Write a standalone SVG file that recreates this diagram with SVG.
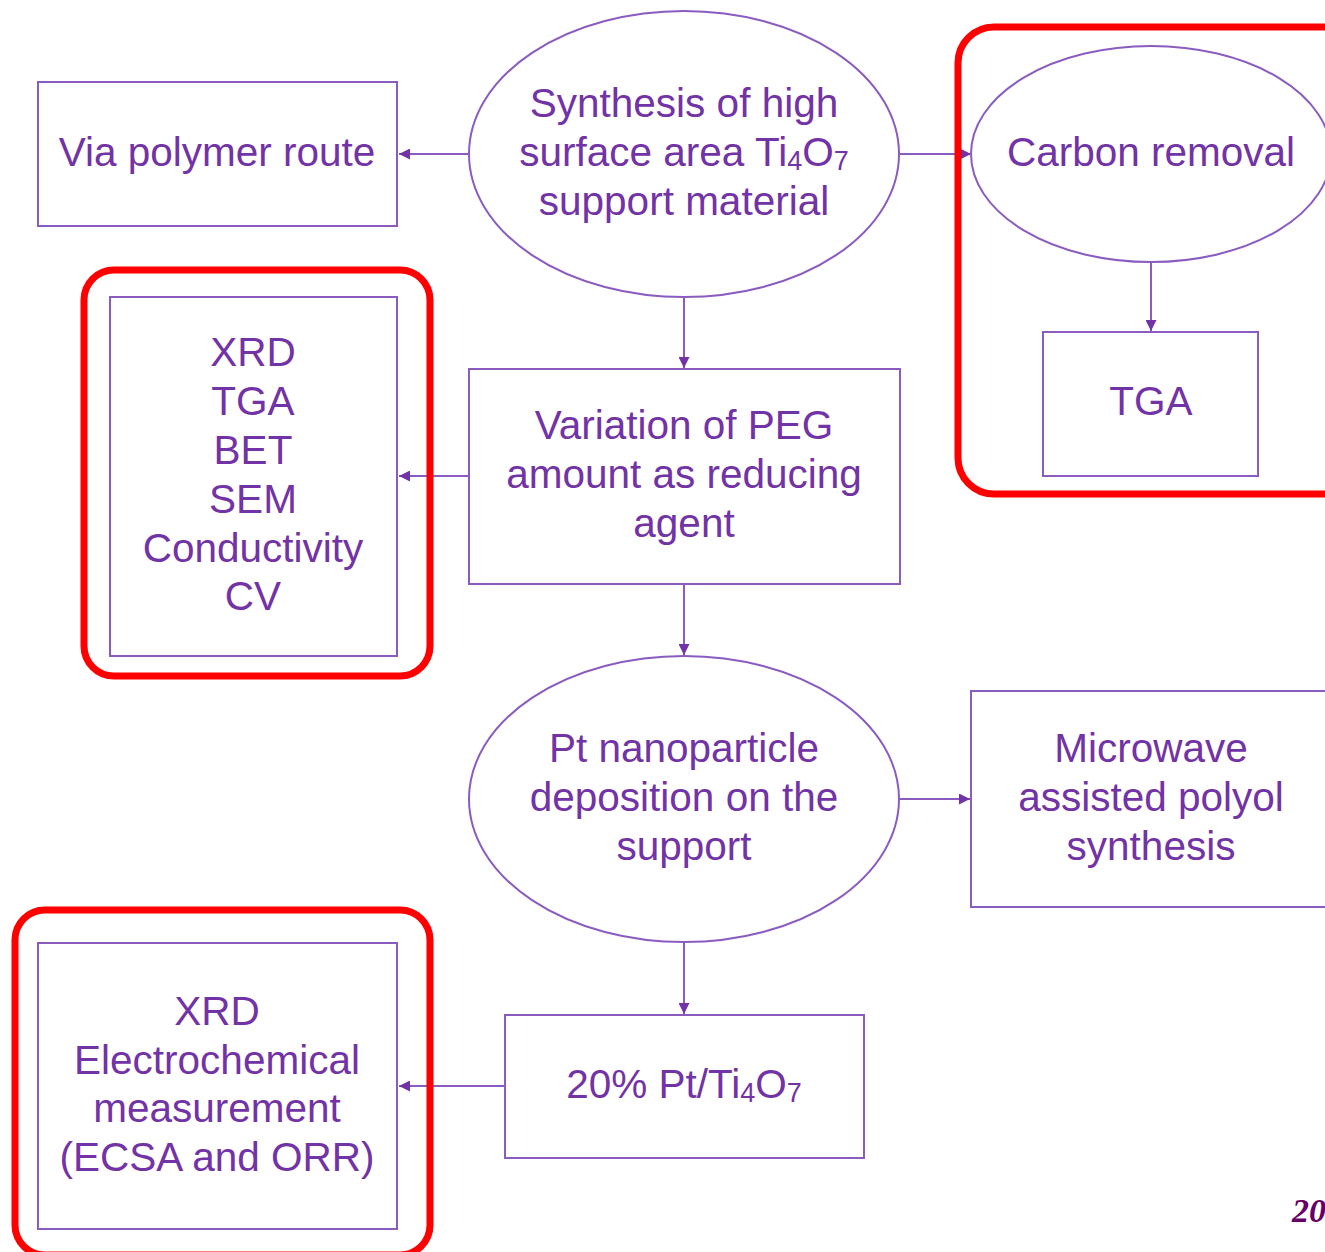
<svg xmlns="http://www.w3.org/2000/svg" width="1325" height="1252" viewBox="0 0 1325 1252">
<defs>
<style>
.n{fill:#fff;stroke:#8a5cc0;stroke-width:2}
.t{font-family:"Liberation Sans",Arial,sans-serif;font-size:40.5px;fill:#7233a6;text-anchor:middle}
.s{font-size:27px}
.c{stroke:#8a5cc0;stroke-width:2;fill:none;marker-end:url(#a)}
.r{fill:none;stroke:#ff0000;stroke-width:7}
</style>
<marker id="a" viewBox="0 0 10 10" refX="10" refY="5" markerWidth="12" markerHeight="11" orient="auto" markerUnits="userSpaceOnUse"><path d="M0,0L10,5L0,10z" fill="#7233a6"/></marker>
</defs>
<rect width="1325" height="1252" fill="#fff"/>
<g id="connectors">
<line class="c" x1="469" y1="154" x2="399" y2="154"/>
<line class="c" x1="899" y1="154" x2="971" y2="154"/>
<line class="c" x1="684" y1="297" x2="684" y2="368"/>
<line class="c" x1="1151" y1="262" x2="1151" y2="331"/>
<line class="c" x1="469" y1="476" x2="399" y2="476"/>
<line class="c" x1="684" y1="584" x2="684" y2="655"/>
<line class="c" x1="899" y1="799" x2="970" y2="799"/>
<line class="c" x1="684" y1="942" x2="684" y2="1014"/>
<line class="c" x1="505" y1="1086" x2="399" y2="1086"/>
</g>
<g id="synthesis">
<ellipse class="n" cx="684" cy="154" rx="215" ry="143"/>
<text class="t" x="684" y="117">Synthesis of high</text>
<text class="t" x="684" y="166">surface area Ti<tspan class="s" dy="4">4</tspan><tspan dy="-4">O</tspan><tspan class="s" dy="4">7</tspan></text>
<text class="t" x="684" y="215">support material</text>
</g>
<g id="polymer">
<rect class="n" x="38" y="82" width="359" height="144"/>
<text class="t" x="217" y="166">Via polymer route</text>
</g>
<g id="carbon">
<ellipse class="n" cx="1151" cy="154" rx="180" ry="108"/>
<text class="t" x="1151" y="166">Carbon removal</text>
</g>
<g id="tga">
<rect class="n" x="1043" y="332" width="215" height="144"/>
<text class="t" x="1151" y="415">TGA</text>
</g>
<g id="peg">
<rect class="n" x="469" y="369" width="431" height="215"/>
<text class="t" x="684" y="439">Variation of PEG</text>
<text class="t" x="684" y="488">amount as reducing</text>
<text class="t" x="684" y="537">agent</text>
</g>
<g id="char1">
<rect class="n" x="110" y="297" width="287" height="359"/>
<text class="t" x="253" y="366">XRD</text>
<text class="t" x="253" y="415">TGA</text>
<text class="t" x="253" y="464">BET</text>
<text class="t" x="253" y="513">SEM</text>
<text class="t" x="253" y="562">Conductivity</text>
<text class="t" x="253" y="610">CV</text>
</g>
<g id="pt">
<ellipse class="n" cx="684" cy="799" rx="215" ry="143"/>
<text class="t" x="684" y="762">Pt nanoparticle</text>
<text class="t" x="684" y="811">deposition on the</text>
<text class="t" x="684" y="860">support</text>
</g>
<g id="microwave">
<rect class="n" x="971" y="691" width="360" height="216"/>
<text class="t" x="1151" y="762">Microwave</text>
<text class="t" x="1151" y="811">assisted polyol</text>
<text class="t" x="1151" y="860">synthesis</text>
</g>
<g id="ptti">
<rect class="n" x="505" y="1015" width="359" height="143"/>
<text class="t" x="684" y="1098">20% Pt/Ti<tspan class="s" dy="4">4</tspan><tspan dy="-4">O</tspan><tspan class="s" dy="4">7</tspan></text>
</g>
<g id="char2">
<rect class="n" x="38" y="943" width="359" height="286"/>
<text class="t" x="217" y="1025">XRD</text>
<text class="t" x="217" y="1074">Electrochemical</text>
<text class="t" x="217" y="1122">measurement</text>
<text class="t" x="217" y="1171">(ECSA and ORR)</text>
</g>
<g id="highlights">
<rect class="r" x="958" y="27" width="400" height="467" rx="36"/>
<rect class="r" x="84" y="270" width="346" height="406" rx="30"/>
<rect class="r" x="15" y="910" width="415" height="345" rx="30"/>
</g>
<text x="1292" y="1222" font-family="Liberation Serif,serif" font-size="34" font-weight="bold" font-style="italic" fill="#660066">20</text>
</svg>
